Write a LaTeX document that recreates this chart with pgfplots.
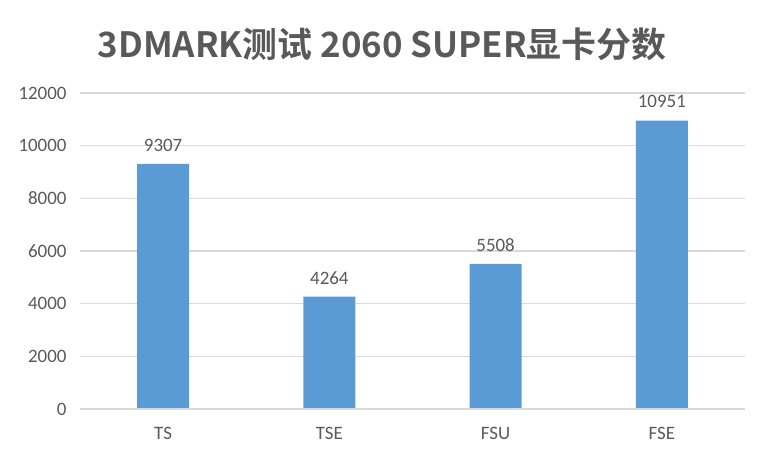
\documentclass[border=0pt]{standalone}
\usepackage{fontspec}
\setmainfont{Carlito}
\newfontfamily\cjk{Noto Sans CJK SC}[BoldFont={* Bold}]
\usepackage{pgfplots}
\pgfplotsset{compat=1.18}
\definecolor{barblue}{HTML}{5B9BD5}
\definecolor{txtgray}{HTML}{595959}
\definecolor{gridgray}{HTML}{D9D9D9}

\begin{document}
\begin{tikzpicture}
\path[use as bounding box] (0,0) rectangle (765bp,457bp);
\begin{axis}[
    at={(80bp,48bp)}, anchor=south west,
    scale only axis,
    width=665bp, height=316bp,
    xmin=-0.5, xmax=3.5,
    ymin=0, ymax=12000,
    ytick={0,2000,...,12000},
    xtick={0,1,2,3},
    xticklabels={TS,TSE,FSU,FSE},
    ymajorgrids,
    grid style={gridgray, line width=1.5bp},
    axis line style={draw=none},
    axis x line*=bottom,
    axis y line*=left,
    major tick length=0pt,
    tick label style={font=\fontsize{19}{22}\selectfont, text=txtgray},
    /pgf/number format/assume math mode=true,
    /pgf/number format/1000 sep={},
    yticklabel style={xshift=-10bp},
    xticklabel style={yshift=-15bp},
    scaled y ticks=false,
    ybar, bar width=52bp,
    nodes near coords,
    every node near coord/.append style={font=\fontsize{19}{22}\selectfont, text=txtgray, yshift=9bp},
]
\addplot[fill=barblue, draw=none] coordinates {(0,9307) (1,4264) (2,5508) (3,10951)};
\draw[gridgray, line width=1.5bp] (axis cs:-0.5,0) -- (axis cs:3.5,0);
\end{axis}
\node[text=txtgray, font=\cjk\bfseries\fontsize{35}{40}\selectfont] at (382bp,413bp) {3DMARK测试 2060 SUPER显卡分数};
\end{tikzpicture}
\end{document}
